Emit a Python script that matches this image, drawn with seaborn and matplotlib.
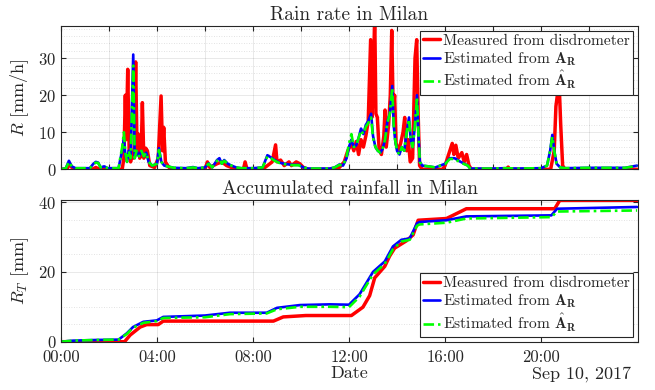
import numpy as np
import pandas as pd
import matplotlib
matplotlib.use("Agg")
import matplotlib.pyplot as plt
import matplotlib.dates as mdates
from matplotlib.ticker import MultipleLocator, FixedLocator
import seaborn as sns

# --- data (hours after midnight, Sep 10 2017) ---
# rain rate measured by the disdrometer [mm/h]
meas_t = [0.0, 0.25, 0.35, 0.45, 0.6, 1.3, 1.45, 1.6, 2.55, 2.62, 2.68, 2.72, 2.78, 2.84,
          2.9, 2.95, 3.0, 3.05, 3.11, 3.17, 3.22, 3.28, 3.34, 3.39, 3.45, 3.53, 3.6, 3.7,
          3.9, 4.05, 4.17, 4.23, 4.28, 4.35, 4.5, 4.7, 6.0, 6.1, 6.2, 6.5, 6.7, 6.9, 7.1,
          7.3, 7.6, 7.67, 7.75, 8.4, 8.6, 8.8, 8.94, 9.0, 9.15, 9.3, 9.5, 9.6, 9.8, 9.95,
          10.1, 10.3, 11.3, 11.6, 11.8, 11.95, 12.1, 12.2, 12.3, 12.4, 12.5, 12.6, 12.7,
          12.8, 12.9, 12.95, 13.0, 13.07, 13.12, 13.18, 13.25, 13.35, 13.45, 13.5, 13.55,
          13.65, 13.72, 13.78, 13.84, 13.9, 13.96, 14.05, 14.15, 14.25, 14.32, 14.4, 14.47,
          14.55, 14.65, 14.75, 14.82, 14.88, 14.94, 15.05, 15.9, 16.0, 16.1, 16.2, 16.3,
          16.37, 16.45, 16.55, 16.7, 16.8, 16.9, 17.0, 17.1, 18.55, 18.63, 18.7, 20.4, 20.55,
          20.62, 20.7, 20.75, 20.82, 20.9, 21.0, 24.0]
meas_r = [0, 0, 1.5, 0.5, 0, 0, 0.5, 0, 0, 3, 20, 8, 27, 5,
          2, 4, 3, 6, 29, 4, 9.5, 3, 4, 18, 3, 5.7, 5, 1,
          0.5, 3, 19.8, 5, 11.3, 2, 0.5, 0, 0, 2, 0.5, 1.5, 2, 1, 0.5,
          0, 0, 2, 0, 0, 1, 2, 6.6, 2, 2.5, 1, 2, 1, 2, 1.5,
          0.5, 0, 0, 0.5, 2, 5, 7, 5, 7.5, 4, 8, 6, 9,
          13, 35, 14, 20, 42, 15, 14, 6, 4, 9, 16, 6,
          12, 20, 37.5, 16, 20, 7, 5, 7, 10, 14, 5, 8,
          2, 3, 30, 35, 15, 1, 0, 0, 1, 3, 5, 7,
          4, 6.5, 3, 4.5, 2, 4, 1, 0, 0, 0.6, 0, 0, 5,
          17, 21, 24, 12, 1, 0, 0]

# rain rate estimated from A_R and from A_R-hat [mm/h]
est_t = [0.0, 0.2, 0.33, 0.45, 0.6, 1.2, 1.35, 1.45, 1.55, 1.65, 1.8, 1.95, 2.4, 2.48,
         2.55, 2.62, 2.68, 2.75, 2.82, 2.9, 3.01, 3.07, 3.15, 3.25, 3.35, 3.45, 3.55, 3.65,
         3.8, 4.0, 4.08, 4.18, 4.3, 4.5, 4.7, 5.2, 5.5, 5.7, 6.0, 6.15, 6.3, 6.5, 6.6, 6.7,
         6.8, 6.95, 7.1, 7.3, 7.5, 8.0, 8.4, 8.6, 8.75, 8.9, 9.1, 9.3, 9.5, 9.7, 9.9, 10.1,
         10.3, 11.2, 11.4, 11.6, 11.75, 11.9, 12.0, 12.1, 12.2, 12.3, 12.4, 12.5, 12.6,
         12.7, 12.8, 12.92, 13.0, 13.1, 13.2, 13.3, 13.4, 13.5, 13.6, 13.7, 13.8, 13.86,
         13.92, 14.0, 14.1, 14.2, 14.3, 14.4, 14.5, 14.57, 14.65, 14.75, 14.83, 14.89,
         14.95, 15.05, 15.3, 15.6, 15.8, 16.0, 16.2, 16.4, 16.6, 16.8, 16.95, 17.05, 18.0,
         18.5, 19.0, 20.0, 20.25, 20.38, 20.47, 20.55, 20.65, 20.8, 21.0, 22.0, 23.5, 24.0]
est_a_r = [0, 0.3, 2.3, 0.8, 0.3, 0.3, 1.5, 2, 1.8, 0.5, 0.8, 0.3, 0.3, 3,
           5, 8.5, 4, 2, 5, 3, 31, 3, 5, 3.5, 5, 3.5, 4.5, 2,
           1, 1.5, 5.7, 2, 1, 0.7, 0.4, 0.3, 0.6, 0.3, 0.5, 1.6, 0.5, 2.5, 3, 1.5,
           2.5, 1.5, 1, 0.5, 0.3, 0.3, 0.5, 3.8, 3.2, 2.5, 1.8, 1.5, 1.3, 1.2, 1.2, 0.5,
           0.2, 0.2, 0.5, 1.3, 1, 3, 6, 8, 6, 6.5, 8.5, 11, 9.5,
           12, 13, 15, 9, 6, 5, 4.5, 5.5, 8, 13, 15, 22.5, 12,
           8, 5, 4, 6, 5, 10, 14, 8, 6, 12, 20, 10,
           2, 1, 0.8, 0.5, 1, 1.5, 3, 3, 2.2, 1.5, 1, 0.2, 0.2,
           0.3, 0.2, 0.3, 1, 5, 9.3, 5, 1.5, 0.5, 0.3, 0.4, 0.4, 1]
est_ahat_r = [0, 0.3, 2.0, 0.8, 0.3, 0.3, 1.4, 1.8, 1.7, 0.5, 0.7, 0.3, 0.3, 3.5,
              6, 10, 4.5, 2, 5, 3, 28, 3, 5, 3.5, 5, 3.5, 4.5, 2,
              1, 1.5, 5.2, 2, 1, 0.7, 0.4, 0.3, 0.5, 0.3, 0.5, 1.5, 0.5, 2.3, 2.8, 1.5,
              2.3, 1.5, 1, 0.5, 0.3, 0.3, 0.5, 3.5, 3, 2.3, 1.7, 1.4, 1.2, 1.1, 1.1, 0.5,
              0.2, 0.2, 0.5, 1.2, 1, 3.5, 7, 9.5, 6, 6.5, 8.5, 10.5, 9.5,
              11.5, 12.5, 14, 8.5, 6, 5, 4.5, 5.5, 8, 12.5, 15, 22, 12,
              8, 5, 4, 6, 5, 10, 13.5, 8, 6, 12, 19.5, 10,
              2, 1, 0.8, 0.5, 1, 1.4, 2.8, 2.8, 2, 1.4, 1, 0.2, 0.2,
              0.3, 0.2, 0.3, 1, 5, 8.8, 5, 1.5, 0.5, 0.3, 0.4, 0.4, 0.9]

# accumulated rainfall [mm]
acc_meas_t = [0.0, 2.65, 2.88, 3.3, 3.57, 4.05, 4.26, 8.85, 9.26, 10.2, 12.1, 12.58,
              12.86, 13.07, 13.49, 13.69, 13.9, 14.39, 14.67, 14.88, 16.06, 16.33, 16.89,
              20.57, 20.78, 24.0]
acc_meas = [0, 0, 1.9, 4.2, 4.9, 4.9, 5.9, 5.9, 7.1, 7.5, 7.5, 9.9,
            13.2, 18.3, 21.6, 24.5, 26.8, 28.9, 30.6, 34.8, 35.3, 36.2, 38.1,
            38.1, 40.5, 40.5]
acc_est_t = [0.0, 0.5, 1.5, 2.4, 2.74, 3.0, 3.43, 3.99, 4.26, 6.0, 7.04, 8.57, 9.0, 9.96,
             11.2, 12.0, 12.44, 13.0, 13.49, 13.83, 14.18, 14.53, 14.83, 14.94, 16.06,
             16.89, 20.43, 20.67, 24.0]
acc_a = [0, 0.3, 0.5, 0.6, 2.4, 4.2, 5.7, 6.1, 7.1, 7.5, 8.3, 8.3, 9.7, 10.5,
         10.7, 10.6, 13.6, 20.0, 23.0, 27.3, 29.2, 29.6, 33.9, 34.3, 34.8,
         35.9, 36.2, 38.1, 38.6]
acc_ahat = [0, 0.3, 0.5, 0.6, 2.2, 4.0, 5.4, 5.9, 6.8, 7.0, 7.9, 8.1, 9.3, 10.0,
            10.0, 9.9, 12.9, 19.3, 22.3, 26.5, 28.7, 29.2, 33.2, 33.6, 34.1,
            35.3, 35.7, 37.3, 37.6]

labels = ["Measured from disdrometer",
          r"Estimated from $\mathbf{A}_\mathbf{R}$",
          r"Estimated from $\hat{\mathbf{A}}_\mathbf{R}$"]

day = pd.Timestamp("2017-09-10")


def to_time(hours):
    return day + pd.to_timedelta(np.asarray(hours, dtype=float), unit="h")


sns.set_style("ticks")
plt.rcParams["font.family"] = "serif"
plt.rcParams["font.serif"] = ["cmr10"]
plt.rcParams["mathtext.fontset"] = "cm"
plt.rcParams["axes.formatter.use_mathtext"] = True
plt.rcParams["axes.unicode_minus"] = False

dark = "#262626"
styles = [dict(color="#ff0000", lw=2.5, ls="-"),
          dict(color="#0000ff", lw=1.9, ls="-"),
          dict(color="#00ff00", lw=1.9, ls=(0, (4, 1.5, 1, 1.5)))]

fig = plt.figure(figsize=(6.55, 3.9), dpi=100)
ax1 = fig.add_axes([61 / 655, 1 - 169.3 / 390, 577 / 655, 143.3 / 390])
ax2 = fig.add_axes([61 / 655, 1 - 341.7 / 390, 577 / 655, 141.7 / 390])

rate_sets = [(meas_t, meas_r), (est_t, est_a_r), (est_t, est_ahat_r)]
for (t, v), lab, st in zip(rate_sets, labels, styles):
    sns.lineplot(x=to_time(t), y=v, ax=ax1, label=lab, color=st["color"],
                 linewidth=st["lw"], linestyle=st["ls"])

acc_sets = [(acc_meas_t, acc_meas), (acc_est_t, acc_a), (acc_est_t, acc_ahat)]
for (t, v), lab, st in zip(acc_sets, labels, styles):
    sns.lineplot(x=to_time(t), y=v, ax=ax2, label=lab, color=st["color"],
                 linewidth=st["lw"], linestyle=st["ls"])

x0, x1 = day, day + pd.Timedelta(hours=24.04)
for ax in (ax1, ax2):
    ax.set_xlim(x0, x1)
    ax.tick_params(direction="in", which="both", top=True, right=True,
                   colors=dark, labelsize=12, length=3.5, width=0.8)
    ax.tick_params(axis="x", pad=6)
    ax.tick_params(which="minor", length=0)
    for s in ax.spines.values():
        s.set_color(dark)
        s.set_linewidth(0.8)
    ax.grid(True, which="major", color="#000000", alpha=0.1, lw=0.6)
    ax.grid(True, which="minor", color="#000000", alpha=0.15, lw=0.6, ls=(0, (1, 2)))
    ax.set_axisbelow(True)

# top panel
ax1.set_ylim(0, 38.7)
ax1.yaxis.set_major_locator(MultipleLocator(10))
ax1.yaxis.set_minor_locator(MultipleLocator(2))
ax1.xaxis.set_major_locator(FixedLocator(mdates.date2num(to_time(range(0, 24, 2)))))
ax1.tick_params(labelbottom=False)
ax1.set_xlabel("")
ax1.set_ylabel(r"$R$ [mm/h]", fontsize=13, color=dark, labelpad=5)
ax1.set_title("Rain rate in Milan", fontsize=14, pad=4)

# bottom panel
ax2.set_ylim(0, 40.6)
ax2.yaxis.set_major_locator(MultipleLocator(20))
ax2.yaxis.set_minor_locator(MultipleLocator(5))
ax2.xaxis.set_major_locator(FixedLocator(mdates.date2num(to_time(range(0, 24, 4)))))
ax2.xaxis.set_major_formatter(mdates.DateFormatter("%H:%M"))
ax2.set_xlabel("Date", fontsize=13, color=dark, labelpad=0)
ax2.set_ylabel(r"$R_T$ [mm]", fontsize=13, color=dark, labelpad=5)
ax2.set_title("Accumulated rainfall in Milan", fontsize=14, pad=4)
ax2.text(0.988, -0.258, "Sep 10, 2017", transform=ax2.transAxes, ha="right",
         va="baseline", fontsize=13, color=dark)

for ax, loc in ((ax1, "upper right"), (ax2, "lower right")):
    leg = ax.legend(loc=loc, fontsize=11.2, frameon=True, fancybox=False, framealpha=1,
                    edgecolor=dark, borderpad=0.2, labelspacing=0.1,
                    handlelength=1.1, handletextpad=0.2, borderaxespad=0.3)
    leg.get_frame().set_linewidth(0.8)

fig.savefig("out.png", dpi=100)
